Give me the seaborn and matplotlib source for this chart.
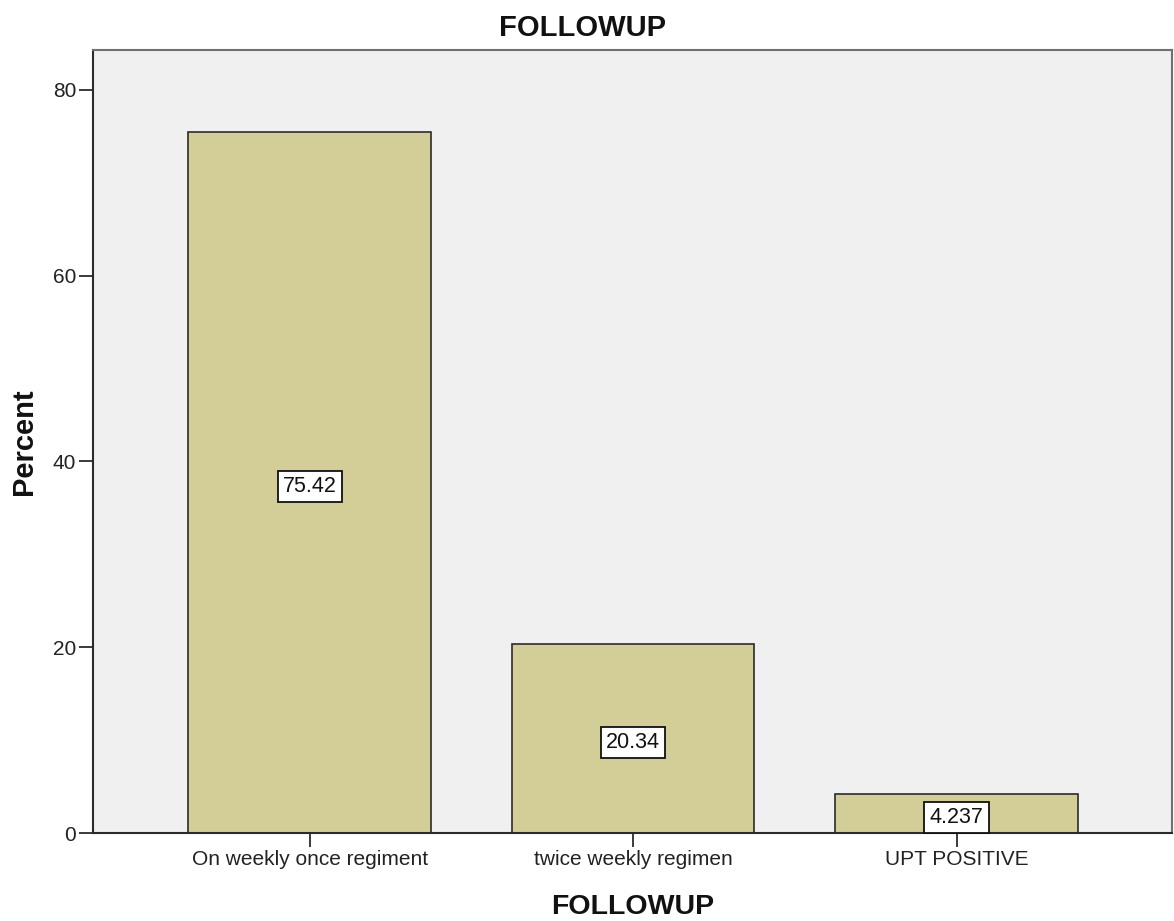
import matplotlib
matplotlib.use("Agg")
import matplotlib.pyplot as plt
import matplotlib.transforms as mtransforms
import seaborn as sns
import pandas as pd

categories = ["On weekly once regiment", "twice weekly regimen", "UPT POSITIVE"]
percents = [75.42, 20.34, 4.237]
value_labels = ["75.42", "20.34", "4.237"]
y_ticks = [0, 20, 40, 60, 80]

sns.set_style("white")
plt.rcParams["font.family"] = ["Liberation Sans", "DejaVu Sans"]

df = pd.DataFrame({"FOLLOWUP": categories, "Percent": percents})

fig = plt.figure(figsize=(11.74, 9.21), dpi=100)
ax = fig.add_axes([0.0792, 0.0955, 0.9191, 0.8502])
ax.set_facecolor("#f0f0f0")

sns.barplot(data=df, x="FOLLOWUP", y="Percent", color="#d3ce97", saturation=1,
            width=0.75, edgecolor="#2b2b2b", linewidth=1.2, ax=ax)

# value boxes sit at mid-height of each bar, nudged slightly down
nudge = mtransforms.offset_copy(ax.transData, fig=fig, x=0, y=-4, units="dots")
for i, (v, lab) in enumerate(zip(percents, value_labels)):
    ax.text(i, v / 2, lab, ha="center", va="center", fontsize=15.5, color="#111111",
            transform=nudge,
            bbox=dict(boxstyle="square,pad=0.24", facecolor="white", edgecolor="#111111", linewidth=1.3))

ax.set_xlim(-0.67, 2.666)
ax.set_ylim(0, 84.3)
ax.set_yticks(y_ticks)
ax.tick_params(axis="both", labelsize=15, length=10, width=1.3, color="#2b2b2b", direction="out",
               left=True, bottom=True, pad=2, labelcolor="#222222")
for side in ["left", "bottom"]:
    ax.spines[side].set_color("#2b2b2b")
    ax.spines[side].set_linewidth(1.5)
for side in ["top", "right"]:
    ax.spines[side].set_color("#707070")
    ax.spines[side].set_linewidth(1.5)

ax.set_xlabel("FOLLOWUP", fontsize=20.5, fontweight="bold", labelpad=18, color="#111111")
ax.set_ylabel("Percent", fontsize=21, fontweight="bold", labelpad=11, color="#111111")
fig.suptitle("FOLLOWUP", x=0.496, y=0.985, fontsize=21, fontweight="bold", color="#111111")

fig.savefig("out.png", dpi=100)
